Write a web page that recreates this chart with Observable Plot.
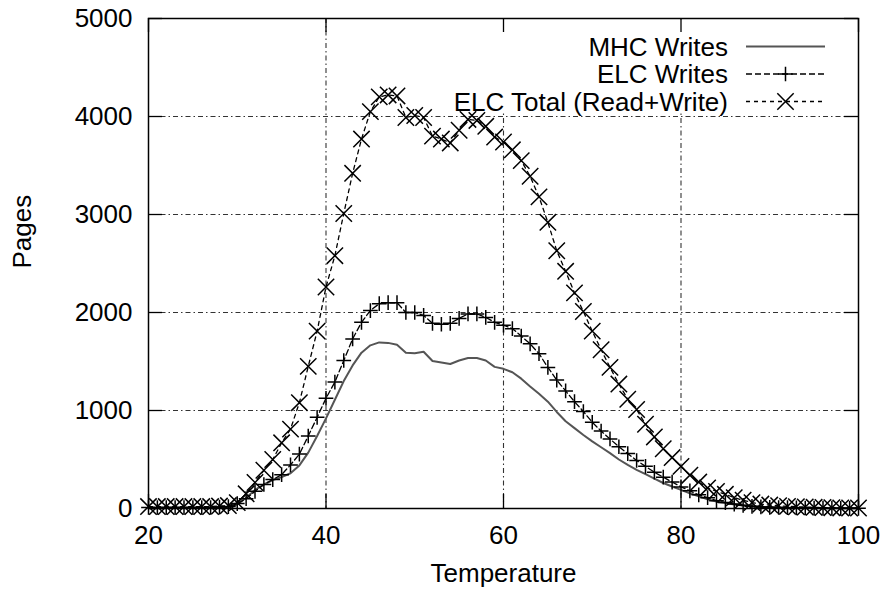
<!DOCTYPE html>
<html><head><meta charset="utf-8">
<script src="https://cdn.jsdelivr.net/npm/d3@7"></script>
<script src="https://cdn.jsdelivr.net/npm/@observablehq/plot@0.6"></script>
<style>html,body{margin:0;padding:0;background:#fff}#chart{width:881px;height:589px}</style>
</head><body><div id="chart"></div>
<script>
const temperature = [20,21,22,23,24,25,26,27,28,29,30,31,32,33,34,35,36,37,38,39,40,41,42,43,44,45,46,47,48,49,50,51,52,53,54,55,56,57,58,59,60,61,62,63,64,65,66,67,68,69,70,71,72,73,74,75,76,77,78,79,80,81,82,83,84,85,86,87,88,89,90,91,92,93,94,95,96,97,98,99,100];
const mhcWrites = [5,5,5,5,5,5,5,5,10,15,40,110,190,245,290,320,360,440,570,740,920,1110,1300,1460,1590,1665,1695,1690,1670,1590,1585,1600,1505,1490,1475,1510,1535,1535,1510,1445,1425,1390,1325,1245,1170,1090,985,890,820,750,685,625,565,500,445,395,350,305,260,225,190,155,125,95,70,55,40,30,22,15,12,10,8,6,5,4,3,3,2,2,2];
const elcWrites = [10,10,10,10,10,10,10,10,15,20,50,100,175,245,295,345,445,555,740,930,1125,1290,1510,1730,1900,2020,2090,2100,2100,2000,2000,1970,1890,1880,1890,1940,1985,1985,1950,1900,1870,1835,1760,1680,1580,1440,1310,1200,1090,990,880,790,710,630,560,490,430,370,320,270,220,180,140,110,80,60,45,32,22,16,12,10,8,6,5,4,3,3,2,2,2];
const elcTotal = [20,20,20,20,20,20,20,20,25,30,60,150,265,390,500,670,810,1080,1450,1810,2260,2580,3010,3420,3770,4050,4200,4220,4210,3990,4010,3990,3800,3770,3730,3860,3970,3960,3900,3790,3740,3660,3550,3390,3180,2920,2630,2420,2200,2010,1810,1620,1440,1270,1115,1010,860,730,610,520,430,340,270,210,175,145,110,85,60,45,35,28,22,18,15,12,10,8,6,5,5];
const xTicks = [20,40,60,80,100];
const yTicks = [0,1000,2000,3000,4000,5000];
const seriesNames = ["MHC Writes","ELC Writes","ELC Total (Read+Write)"];
const xLabel = "Temperature";
const yLabel = "Pages";

const rows = temperature.map((t,i)=>({t, mhc: mhcWrites[i], elcW: elcWrites[i], elcT: elcTotal[i]}));
const W=881,H=589, mt=18, mr=23, mb=81, ml=148;
const innerW = W-ml-mr, innerH = H-mt-mb;
const font = "'Liberation Sans', Arial, Helvetica, sans-serif";
const gridDash = "5,3,1.5,3";
const tickLen = 14;
const rPlus = 4.8, rTimes = 7.5;

const plot = Plot.plot({
  width: W, height: H, marginTop: mt, marginRight: mr, marginBottom: mb, marginLeft: ml,
  style: {fontFamily: font, fontSize: "26px", color: "#000", background: "#fff"},
  x: {domain: [20,100]},
  y: {domain: [0,5000]},
  marks: [
    Plot.ruleX(xTicks.slice(1,-1), {stroke:"#333", strokeWidth:1.1, strokeDasharray: gridDash}),
    Plot.ruleY(yTicks.slice(1,-1), {stroke:"#333", strokeWidth:1.1, strokeDasharray: gridDash}),
    Plot.line(rows, {x:"t", y:"mhc", stroke:"#555", strokeWidth:2}),
    Plot.line(rows, {x:"t", y:"elcW", stroke:"#000", strokeWidth:1.3, strokeDasharray:"6,3"}),
    Plot.dot(rows, {x:"t", y:"elcW", symbol:"plus", r:rPlus, stroke:"#000", fill:"none", strokeWidth:1.5}),
    Plot.line(rows, {x:"t", y:"elcT", stroke:"#000", strokeWidth:1.3, strokeDasharray:"4,4"}),
    Plot.dot(rows, {x:"t", y:"elcT", symbol:"times", r:rTimes, stroke:"#000", fill:"none", strokeWidth:1.5}),
    Plot.tickX(xTicks, {x: d=>d, insetTop: innerH-tickLen, stroke:"#000", strokeWidth:1.3}),
    Plot.tickX(xTicks, {x: d=>d, insetBottom: innerH-tickLen, stroke:"#000", strokeWidth:1.3}),
    Plot.tickY(yTicks, {y: d=>d, insetRight: innerW-tickLen, stroke:"#000", strokeWidth:1.3}),
    Plot.tickY(yTicks, {y: d=>d, insetLeft: innerW-tickLen, stroke:"#000", strokeWidth:1.3}),
    Plot.frame({stroke:"#000", strokeWidth:1.5}),
    Plot.axisX(xTicks, {tickSize:0, tickPadding:17, fontSize:26, label:null, tickFormat: d3.format("d")}),
    Plot.axisY(yTicks, {tickSize:0, tickPadding:16, fontSize:26, label:null, tickFormat: d3.format("d")}),
    Plot.text([xLabel], {frameAnchor:"bottom", dy:73, fontSize:26}),
    Plot.text([yLabel], {frameAnchor:"left", dx:-126, dy:5, rotate:-90, fontSize:26})
  ]
});
document.getElementById("chart").appendChild(plot);

// Legend (inside the plot, top right)
const svg = d3.select(plot);
const ns = "http://www.w3.org/2000/svg";
const bg = document.createElementNS(ns, "rect");
const right = W - mr;
bg.setAttribute("x", 432); bg.setAttribute("y", mt + 1.5);
bg.setAttribute("width", right - 1.5 - 432); bg.setAttribute("height", 113 - mt - 1.5);
bg.setAttribute("fill", "#fff");
const firstLine = plot.querySelector('g[aria-label="line"]');
firstLine.parentNode.insertBefore(bg, firstLine);

const lg = svg.append("g").attr("font-family", font).attr("font-size", 26);
const textRight = right - 130, sx1 = right - 112, sx2 = right - 33, smid = (sx1+sx2)/2;
const rowY = [mt+28.5, mt+56, mt+83.5];
const styles = [
  {stroke:"#555", w:2, dash:null, sym:null},
  {stroke:"#000", w:1.3, dash:"6,3", sym:d3.symbolPlus, r:rPlus},
  {stroke:"#000", w:1.3, dash:"4,4", sym:d3.symbolTimes, r:rTimes}
];
seriesNames.forEach((name,i)=>{
  const s = styles[i], y = rowY[i];
  lg.append("text").attr("x", textRight).attr("y", y).attr("dy","0.35em").attr("text-anchor","end").attr("fill","#000").text(name);
  const l = lg.append("line").attr("x1", sx1).attr("x2", sx2).attr("y1", y).attr("y2", y).attr("stroke", s.stroke).attr("stroke-width", s.w);
  if (s.dash) l.attr("stroke-dasharray", s.dash);
  if (s.sym) lg.append("path").attr("transform", `translate(${smid},${y})`).attr("d", d3.symbol(s.sym, Math.PI*s.r*s.r)()).attr("fill","none").attr("stroke","#000").attr("stroke-width",1.5);
});
</script>
</body></html>
